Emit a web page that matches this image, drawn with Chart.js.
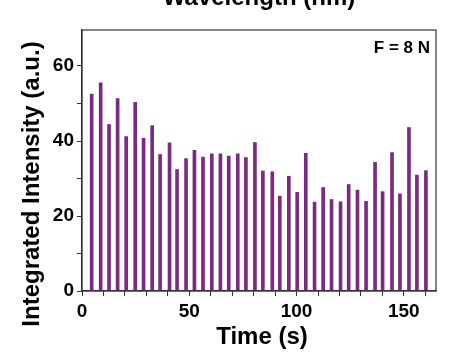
<!DOCTYPE html>
<html>
<head>
<meta charset="utf-8">
<script src="https://cdn.jsdelivr.net/npm/chart.js@4.4.0/dist/chart.umd.min.js"></script>
<style>
  html, body { margin: 0; padding: 0; background: #fff; }
  #wrap { width: 456px; height: 352px; }
</style>
</head>
<body>
<div id="wrap"><canvas id="myChart"></canvas></div>
<script>
// peak times (s)
const times = [4.5, 8.7, 12.6, 16.6, 20.6, 24.8, 28.7, 32.7, 36.4, 40.8,
  44.3, 48.5, 52.4, 56.4, 60.5, 64.5, 68.4, 72.6, 76.4, 80.6,
  84.3, 88.7, 92.2, 96.4, 100.3, 104.3, 108.4, 112.4, 116.3, 120.5,
  124.3, 128.4, 132.4, 136.6, 140.1, 144.5, 148.2, 152.4, 156.1, 160.3];

// peak heights (a.u.)
const intensity = [52.5, 55.5, 44.4, 51.3, 41.2, 50.3, 40.7, 44.1, 36.4, 39.5,
  32.4, 35.3, 37.5, 35.7, 36.6, 36.6, 36.0, 36.6, 35.6, 39.6,
  32.0, 31.8, 25.3, 30.6, 26.3, 36.7, 23.7, 27.6, 24.4, 23.8,
  28.4, 26.9, 23.9, 34.3, 26.5, 36.9, 25.9, 43.6, 30.9, 32.1];

const xTicks = [0, 50, 100, 150];
const yTicks = [0, 20, 40, 60];

const purple = '#7a2a80';
const FONT = '"Liberation Sans", Arial, sans-serif';

const extras = {
  id: 'extras',
  afterDraw(chart) {
    const { ctx, chartArea: a } = chart;
    ctx.save();
    ctx.strokeStyle = '#333';
    ctx.lineWidth = 1.2;
    ctx.strokeRect(a.left, a.top, a.right - a.left, a.bottom - a.top);

    ctx.fillStyle = '#000';
    ctx.font = 'bold 17px ' + FONT;
    ctx.textAlign = 'right';
    ctx.textBaseline = 'middle';
    ctx.fillText('F = 8 N', a.right - 6, 48);

    ctx.font = 'bold 24px ' + FONT;
    ctx.textAlign = 'center';
    ctx.textBaseline = 'alphabetic';
    ctx.fillText('Time (s)', 262, 344);

    // title of the panel above, cut off by the image edge
    ctx.fillText('Wavelength (nm)', 259, 5);

    ctx.translate(39, 184);
    ctx.rotate(-Math.PI / 2);
    ctx.fillText('Integrated Intensity (a.u.)', 0, 0);
    ctx.restore();
  }
};

new Chart(document.getElementById('myChart'), {
  type: 'bar',
  data: {
    datasets: [{
      data: times.map((t, i) => ({ x: t, y: intensity[i] })),
      backgroundColor: purple,
      barThickness: 3
    }]
  },
  options: {
    responsive: true,
    maintainAspectRatio: false,
    animation: false,
    layout: { padding: { left: 0, top: 30, right: 20, bottom: 0 } },
    plugins: { legend: { display: false }, tooltip: { enabled: false } },
    scales: {
      x: {
        type: 'linear',
        min: 0,
        max: 165,
        offset: false,
        afterFit(s) { s.height = 61; },
        afterBuildTicks(s) {
          s.ticks = [];
          for (let v = 0; v <= 160; v += 10) s.ticks.push({ value: v });
        },
        grid: { offset: false, drawOnChartArea: false, tickLength: 5, color: '#333' },
        border: { color: '#333', width: 1.2 },
        ticks: {
          padding: 4,
          maxRotation: 0,
          minRotation: 0,
          autoSkip: false,
          color: '#000',
          font: { family: FONT, size: 19, weight: 'bold' },
          callback: v => xTicks.includes(v) ? String(v) : ''
        }
      },
      y: {
        min: 0,
        max: 69.6,
        afterFit(s) { s.width = 82; },
        afterBuildTicks(s) {
          s.ticks = [];
          for (let v = 0; v <= 60; v += 10) s.ticks.push({ value: v });
        },
        grid: { drawOnChartArea: false, tickLength: 5, color: '#333' },
        border: { color: '#333', width: 1.2 },
        ticks: {
          padding: 3,
          autoSkip: false,
          color: '#000',
          font: { family: FONT, size: 19, weight: 'bold' },
          callback: v => yTicks.includes(v) ? String(v) : ''
        }
      }
    }
  },
  plugins: [extras]
});
</script>
</body>
</html>
